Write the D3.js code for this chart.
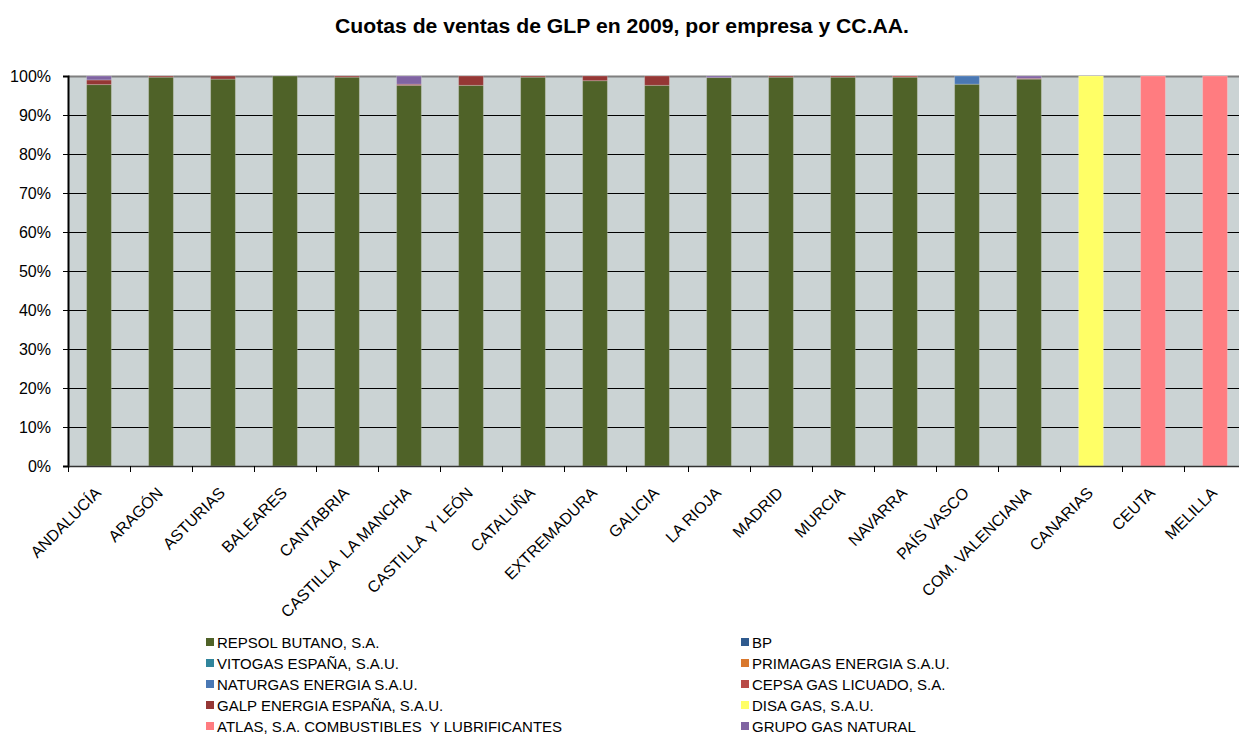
<!DOCTYPE html>
<html>
<head>
<meta charset="utf-8">
<script src="https://cdn.jsdelivr.net/npm/d3@7"></script>
<style>
  html, body { margin: 0; padding: 0; background: #fff; }
  svg { display: block; font-family: Arial, "Liberation Sans", sans-serif; }
  text { white-space: pre; }
</style>
</head>
<body>
<div id="chart"></div>
<script>
// ---- Data ------------------------------------------------------------------
var regions = ['ANDALUCÍA', 'ARAGÓN', 'ASTURIAS', 'BALEARES', 'CANTABRIA',
  'CASTILLA  LA MANCHA', 'CASTILLA  Y LEÓN', 'CATALUÑA', 'EXTREMADURA', 'GALICIA',
  'LA RIOJA', 'MADRID', 'MURCIA', 'NAVARRA', 'PAÍS VASCO', 'COM. VALENCIANA',
  'CANARIAS', 'CEUTA', 'MELILLA'];

var companies = ['REPSOL BUTANO, S.A.', 'BP', 'VITOGAS ESPAÑA, S.A.U.',
  'PRIMAGAS ENERGIA S.A.U.', 'NATURGAS ENERGIA S.A.U.', 'CEPSA GAS LICUADO, S.A.',
  'GALP ENERGIA ESPAÑA, S.A.U.', 'DISA GAS, S.A.U.',
  'ATLAS, S.A. COMBUSTIBLES  Y LUBRIFICANTES', 'GRUPO GAS NATURAL'];

var colors = ['#4F6228', '#2F5A8E', '#31859C', '#D9782D', '#4A78B4',
  '#B84A47', '#953735', '#FFFF66', '#FF7C80', '#8064A2'];

// shares in %, one value per region
var repsol      = [97.8, 99.7, 99.2, 100, 99.7, 97.6, 97.6, 99.7, 98.8, 97.6, 99.6, 99.7, 99.7, 99.7, 97.9, 99.2, 0, 0, 0];
var bp          = [0, 0, 0, 0, 0, 0, 0, 0, 0, 0, 0, 0, 0, 0, 0, 0, 0, 0, 0];
var vitogas     = [0, 0, 0, 0, 0, 0, 0, 0, 0, 0, 0, 0, 0, 0, 0, 0, 0, 0, 0];
var primagas    = [0, 0, 0, 0, 0, 0, 0, 0, 0, 0, 0, 0, 0, 0, 0, 0, 0, 0, 0];
var naturgas    = [0, 0, 0, 0, 0, 0, 0, 0, 0, 0, 0, 0, 0, 0, 2.1, 0, 0, 0, 0];
var cepsa       = [0, 0, 0, 0, 0, 0, 0, 0, 0, 0, 0, 0, 0, 0.3, 0, 0, 0, 0, 0];
var galp        = [1.2, 0.3, 0.8, 0, 0.3, 0.3, 2.4, 0.3, 1.2, 2.4, 0, 0.3, 0.3, 0, 0, 0.2, 0, 0, 0];
var disa        = [0, 0, 0, 0, 0, 0, 0, 0, 0, 0, 0, 0, 0, 0, 0, 0, 100, 0, 0];
var atlas       = [0, 0, 0, 0, 0, 0, 0, 0, 0, 0, 0, 0, 0, 0, 0, 0, 0, 100, 100];
var gasNatural  = [1.0, 0, 0, 0, 0, 2.1, 0, 0, 0, 0, 0.4, 0, 0, 0, 0, 0.6, 0, 0, 0];

var seriesValues = [repsol, bp, vitogas, primagas, naturgas, cepsa, galp, disa, atlas, gasNatural];
var yTicks = [0, 10, 20, 30, 40, 50, 60, 70, 80, 90, 100];

// ---- Layout ----------------------------------------------------------------
var W = 1239, H = 735;
var plot = { left: 68, top: 76, bottom: 466, step: 62 };
plot.right = plot.left + plot.step * regions.length;   // runs past the right edge, as in the source

var svg = d3.select('#chart').append('svg')
  .attr('width', W).attr('height', H);

svg.append('text')
  .attr('x', 622).attr('y', 33)
  .attr('text-anchor', 'middle')
  .attr('font-size', 20).attr('font-weight', 'bold')
  .attr('textLength', 574).attr('lengthAdjust', 'spacingAndGlyphs')
  .text('Cuotas de ventas de GLP en 2009, por empresa y CC.AA.');

var x = d3.scaleBand().domain(regions)
  .range([plot.left, plot.right])
  .paddingInner(0.6).paddingOuter(0.3);
var y = d3.scaleLinear().domain([0, 100]).range([plot.bottom, plot.top]);

// plot background
svg.append('rect')
  .attr('x', plot.left).attr('y', plot.top)
  .attr('width', plot.right - plot.left).attr('height', plot.bottom - plot.top)
  .attr('fill', '#CBD3D4');

// gridlines
svg.append('g').selectAll('line')
  .data(yTicks.filter(function(t) { return t > 0 && t < 100; }))
  .join('line')
  .attr('x1', plot.left).attr('x2', plot.right)
  .attr('y1', function(d) { return Math.round(y(d)) + 0.5; })
  .attr('y2', function(d) { return Math.round(y(d)) + 0.5; })
  .attr('stroke', '#000').attr('stroke-width', 1);

svg.append('line')
  .attr('x1', plot.left).attr('x2', plot.right)
  .attr('y1', plot.top + 0.5).attr('y2', plot.top + 0.5)
  .attr('stroke', '#7f7f7f').attr('stroke-width', 2);

// stacked bars
var rows = regions.map(function(r, i) {
  var o = { region: r };
  companies.forEach(function(c, k) { o[c] = seriesValues[k][i]; });
  return o;
});
var stacked = d3.stack().keys(companies)(rows);

svg.append('g').selectAll('g')
  .data(stacked)
  .join('g')
  .attr('fill', function(d, k) { return colors[k]; })
  .selectAll('rect')
  .data(function(d) { return d.filter(function(p) { return p[1] - p[0] > 0; }); })
  .join('rect')
  .attr('x', function(p) { return x(p.data.region); })
  .attr('width', x.bandwidth())
  .attr('y', function(p) { return y(p[1]); })
  .attr('height', function(p) { return y(p[0]) - y(p[1]); })
  .attr('stroke', 'rgba(255,255,255,0.22)').attr('stroke-width', 1);

// y axis
var yAxis = svg.append('g')
  .attr('transform', 'translate(' + plot.left + ',0)')
  .call(d3.axisLeft(y).tickValues(yTicks).tickSize(5).tickPadding(12)
    .tickFormat(function(d) { return d + '%'; }));
yAxis.select('.domain').attr('stroke', '#000').attr('stroke-width', 2);
yAxis.selectAll('.tick line').attr('stroke', '#000');
yAxis.selectAll('text').attr('font-size', 16).attr('font-family', 'Arial, "Liberation Sans", sans-serif').attr('fill', '#000');

// x axis
var xb = svg.append('g');
xb.append('line')
  .attr('x1', plot.left).attr('x2', plot.right)
  .attr('y1', plot.bottom + 0.5).attr('y2', plot.bottom + 0.5)
  .attr('stroke', '#333').attr('stroke-width', 1.5);
xb.selectAll('line.tk')
  .data(d3.range(regions.length + 1))
  .join('line').attr('class', 'tk')
  .attr('x1', function(i) { return plot.left + i * plot.step + 0.5; })
  .attr('x2', function(i) { return plot.left + i * plot.step + 0.5; })
  .attr('y1', plot.bottom).attr('y2', plot.bottom + 6)
  .attr('stroke', '#000');
xb.selectAll('text')
  .data(regions)
  .join('text')
  .attr('transform', function(d) {
    var cx = x(d) + x.bandwidth() / 2;
    return 'translate(' + (cx + 3) + ',' + (plot.bottom + 28) + ') rotate(-45)';
  })
  .attr('text-anchor', 'end')
  .attr('font-size', 16)
  .text(function(d) { return d; });

// legend
var legend = svg.append('g');
var legItems = legend.selectAll('g')
  .data(companies)
  .join('g')
  .attr('transform', function(d, i) {
    var col = i % 2, row = Math.floor(i / 2);
    return 'translate(' + (col ? 741 : 206) + ',' + (642 + row * 21) + ')';
  });
legItems.append('rect')
  .attr('x', 0).attr('y', -4).attr('width', 8).attr('height', 8)
  .attr('fill', function(d, i) { return colors[i]; });
legItems.append('text')
  .attr('x', 11).attr('y', 5.5)
  .attr('font-size', 15)
  .text(function(d) { return d; });
</script>
</body>
</html>
